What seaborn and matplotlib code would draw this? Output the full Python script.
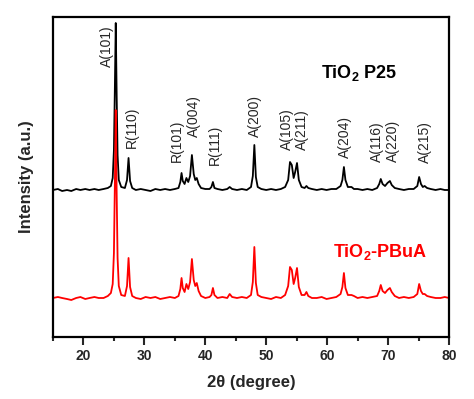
import numpy as np
import pandas as pd
import matplotlib
matplotlib.use("Agg")
import matplotlib.pyplot as plt
import seaborn as sns

# --------------------- Data ---------------------
two_theta = [15.0, 15.8, 16.5, 17.3, 18.0, 18.8, 19.5, 20.3, 21.0, 21.8,
             22.5, 23.3, 24.0, 24.5, 24.8, 25.0, 25.15, 25.3, 25.45, 25.6,
             25.8, 26.2, 26.8, 27.15, 27.4, 27.65, 28.0, 28.6, 29.4, 30.2,
             31.0, 31.8, 32.6, 33.4, 34.2, 35.0, 35.6, 35.9, 36.1, 36.3,
             36.6, 36.9, 37.2, 37.5, 37.8, 38.1, 38.35, 38.6, 38.9, 39.3,
             40.0, 40.7, 41.0, 41.25, 41.5, 42.0, 42.8, 43.6, 44.0, 44.4,
             45.2, 46.0, 46.8, 47.5, 47.8, 48.05, 48.3, 48.6, 49.2, 50.0,
             50.8, 51.6, 52.4, 53.1, 53.6, 53.9, 54.2, 54.5, 54.75, 55.05,
             55.35, 55.8, 56.3, 56.6, 56.9, 57.5, 58.3, 59.1, 59.9, 60.7,
             61.5, 62.2, 62.5, 62.75, 63.0, 63.4, 64.0, 64.4, 65.0, 65.8,
             66.6, 67.4, 68.2, 68.55, 68.8, 69.1, 69.5, 69.9, 70.3, 70.6,
             71.1, 71.8, 72.6, 73.4, 74.2, 74.8, 75.1, 75.4, 75.7, 76.0,
             76.4, 77.0, 77.8, 78.6, 79.3, 80.0]

p25 = [0, 1, -1, 0, -1, 1, 0, 1, 0, 1,
       0, 1, 2, 4, 12, 40, 100, 167, 95, 35,
       10, 3, 2, 10, 32, 9, 2, 0, 1, 0,
       -1, 1, 0, 1, 0, 1, 2, 8, 17, 9,
       6, 12, 8, 14, 35, 16, 10, 12, 6, 2,
       1, 1, 3, 8, 2, 1, 0, 1, 3, 1,
       0, 1, 0, 3, 14, 45, 13, 3, 1, 0,
       1, 0, 1, 3, 10, 28, 25, 12, 18, 27,
       10, 3, 2, 4, 2, 1, 0, 1, 0, 1,
       1, 4, 10, 23, 10, 3, 3, 1, 1, 0,
       1, 0, 2, 6, 11, 6, 4, 7, 9, 5,
       2, 1, 0, 1, 1, 4, 13, 6, 3, 4,
       2, 1, 0, 1, 0, 0]

pbua = [0, 1, 0, -1, -2, 0, 1, -1, 0, 1,
        0, 0, 2, 5, 14, 45, 112, 188, 105, 40,
        12, 3, 2, 12, 40, 11, 2, 0, -1, 1,
        0, 1, -1, 0, 1, 0, 2, 9, 20, 10,
        6, 14, 9, 16, 39, 18, 12, 15, 7, 2,
        0, 1, 3, 10, 3, 0, 1, 0, 4, 1,
        0, 1, 0, 3, 16, 51, 15, 3, 1, 0,
        -1, 1, 0, 3, 12, 31, 28, 14, 20, 30,
        11, 3, 3, 6, 2, 0, 0, 1, -1, 0,
        1, 4, 11, 25, 10, 3, 3, 2, 0, 1,
        0, 1, 2, 7, 13, 7, 5, 8, 10, 6,
        2, 0, 1, 0, 1, 4, 14, 7, 4, 4,
        2, 1, 0, 0, 1, 0]

peak_labels = ["A(101)", "R(110)", "R(101)", "A(004)", "R(111)", "A(200)",
               "A(105)", "A(211)", "A(204)", "A(116)", "A(220)", "A(215)"]
label_x = [23.9, 28.0, 35.4, 38.2, 41.6, 48.2, 53.4, 55.9, 63.0, 68.2, 70.8, 76.1]

# --------------------- Layout ---------------------
p25_offset = 147
pbua_offset = 39
label_y = [270, 189, 175, 200, 172, 200, 187, 187, 179, 175, 175, 174]

df = pd.DataFrame({
    "two_theta": two_theta * 2,
    "intensity": [v + p25_offset for v in p25] + [v + pbua_offset for v in pbua],
    "sample": ["TiO2 P25"] * len(two_theta) + ["TiO2-PBuA"] * len(two_theta),
})

sns.set_style("ticks")
plt.rcParams["font.family"] = ["Liberation Sans", "DejaVu Sans"]
plt.rcParams["mathtext.fontset"] = "custom"
plt.rcParams["mathtext.rm"] = "Liberation Sans"
plt.rcParams["mathtext.bf"] = "Liberation Sans:bold"
plt.rcParams["mathtext.default"] = "bf"

fig = plt.figure(figsize=(4.74, 3.99), dpi=100)
ax = fig.add_axes([53 / 474, 62 / 399, 396 / 474, 320 / 399])

sns.lineplot(data=df, x="two_theta", y="intensity", hue="sample",
             palette={"TiO2 P25": "black", "TiO2-PBuA": "#ff0000"},
             sort=False, estimator=None, linewidth=1.3, legend=False, ax=ax)

for txt, x, y in zip(peak_labels, label_x, label_y):
    ax.text(x, y, txt, rotation=90, ha="center", va="bottom", fontsize=10)

ax.text(59.0, 259, "TiO$_2$ P25", fontsize=13, fontweight="bold",
        color="black", va="baseline")
ax.text(61.0, 80, "TiO$_2$-PBuA", fontsize=13, fontweight="bold",
        color="#ff0000", va="baseline")

ax.set_xlim(15, 80)
ax.set_ylim(0, 320)
ax.set_xticks([20, 30, 40, 50, 60, 70, 80])
ax.set_xticks(np.arange(15, 81, 5), minor=True)
ax.set_yticks([])
ax.tick_params(axis="x", which="major", length=6, width=1.5, labelsize=10,
               direction="out", pad=3)
ax.tick_params(axis="x", which="minor", length=3, width=1.5, direction="out")
for lbl in ax.get_xticklabels():
    lbl.set_fontweight("bold")
for s in ax.spines.values():
    s.set_visible(True)
    s.set_linewidth(1.6)
    s.set_color("black")

ax.set_xlabel("2θ (degree)", fontsize=12, fontweight="bold", labelpad=8)
ax.set_ylabel("Intensity (a.u.)", fontsize=12, fontweight="bold", labelpad=14)

fig.savefig("out.png", dpi=100)
